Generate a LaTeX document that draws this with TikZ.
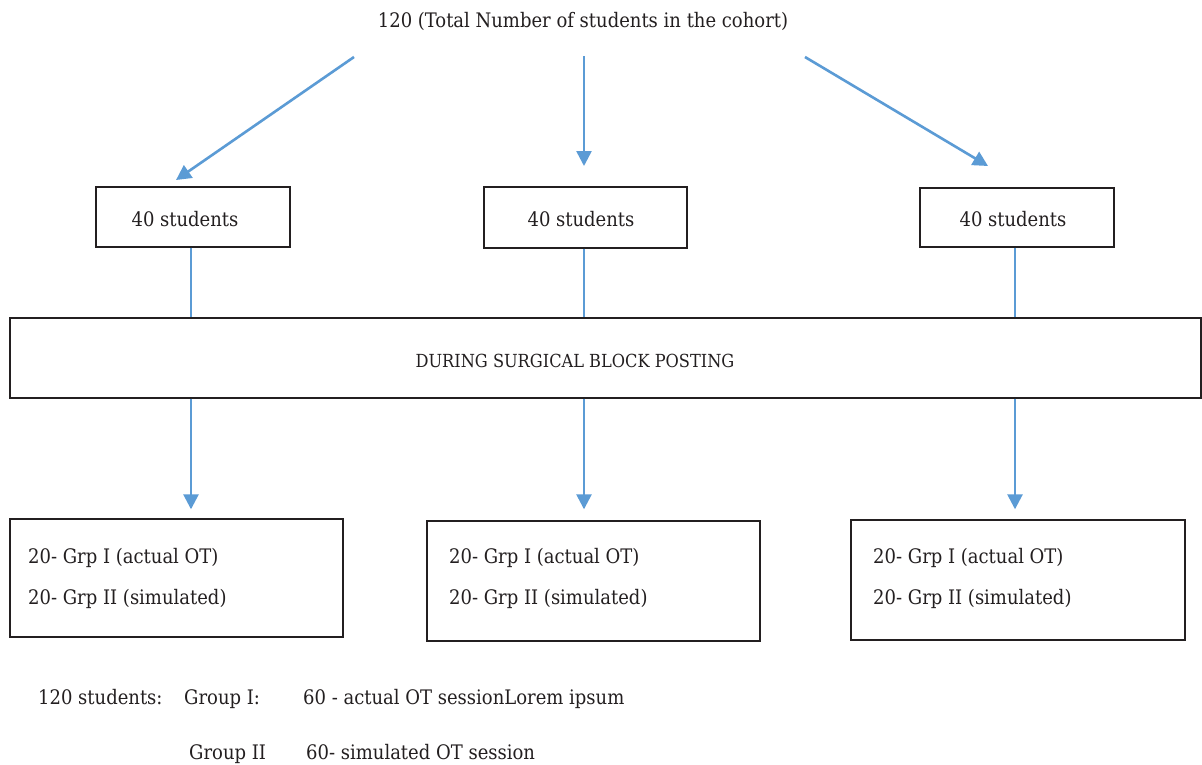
\documentclass[tikz,border=0pt]{standalone}
\usepackage{fontspec}
\setmainfont{DejaVu Serif Condensed}
\usetikzlibrary{arrows.meta}
\definecolor{arrowblue}{RGB}{91,155,213}
\definecolor{ink}{RGB}{35,31,32}
\begin{document}
\begin{tikzpicture}[x=1pt,y=-1pt,
  arr/.style={draw=arrowblue,line width=2.6pt,-{Triangle[length=15pt,width=15pt]}},
  link/.style={draw=arrowblue,line width=2.6pt},
  box/.style={draw=ink,line width=1.4pt,inner sep=0pt},
  lbl/.style={font=\fontsize{20}{24}\selectfont,text=ink,inner sep=0pt},
  txt/.style={lbl,anchor=base west}]
\useasboundingbox (0,0) rectangle (1202,764);
\fill[white] (0,0) rectangle (1202,764);
% title
\node[lbl,anchor=base] (title) at (583,27) {120 (Total Number of students in the cohort)};
% first level boxes
\node[box,minimum width=194pt,minimum height=60pt] (b1) at (193,217) {};
\node[lbl] (t1) at (185,219) {40 students};
\node[box,minimum width=203pt,minimum height=61pt] (b2) at (585.5,217.5) {};
\node[lbl] (t2) at (581,219) {40 students};
\node[box,minimum width=194pt,minimum height=59pt] (b3) at (1017,217.5) {};
\node[lbl] (t3) at (1013,219) {40 students};
% top arrows
\coordinate (s1) at (354,57);  \coordinate (e1) at (176,180);
\coordinate (s2) at (584,56);  \coordinate (e2) at (584,166);
\coordinate (s3) at (805,57);  \coordinate (e3) at (988,166);
\draw[arr] (s1) -- (e1);
\draw[arr] (s2) -- (e2);
\draw[arr] (s3) -- (e3);
% big box
\node[box,minimum width=1191pt,minimum height=80pt] (big) at (605.5,358) {};
\node[lbl,font=\fontsize{18}{22}\selectfont] (bigt) at (575,361) {DURING SURGICAL BLOCK POSTING};
% connectors
\draw[link] (191,0 |- b1.south) coordinate (c1) -- (c1 |- big.north);
\draw[link] (584,0 |- b2.south) coordinate (c2) -- (c2 |- big.north);
\draw[link] (1015,0 |- b3.south) coordinate (c3) -- (c3 |- big.north);
% bottom boxes
\node[box,minimum width=333pt,minimum height=118pt] (ga) at (176.5,578) {};
\node[box,minimum width=333pt,minimum height=120pt] (gb) at (593.5,581) {};
\node[box,minimum width=334pt,minimum height=120pt] (gc) at (1018,580) {};
\draw[arr,shorten >=9pt] (c1 |- big.south) -- (c1 |- ga.north);
\draw[arr,shorten >=11pt] (c2 |- big.south) -- (c2 |- gb.north);
\draw[arr,shorten >=10pt] (c3 |- big.south) -- (c3 |- gc.north);
\node[txt] (a1) at (28,563) {20- Grp I (actual OT)};
\node[txt] (a2) at (28,604) {20- Grp II (simulated)};
\node[txt] (bb1) at (449,563) {20- Grp I (actual OT)};
\node[txt] (bb2) at (449,604) {20- Grp II (simulated)};
\node[txt] (cc1) at (873,563) {20- Grp I (actual OT)};
\node[txt] (cc2) at (873,604) {20- Grp II (simulated)};
% footer
\node[txt] (f1) at (38,704) {120 students:};
\node[txt] (f2) at (184,704) {Group I:};
\node[txt] (f3) at (303,704) {60 - actual OT sessionLorem ipsum};
\node[txt] (f4) at (189,759) {Group II};
\node[txt] (f5) at (306,759) {60- simulated OT session};
\end{tikzpicture}
\end{document}
